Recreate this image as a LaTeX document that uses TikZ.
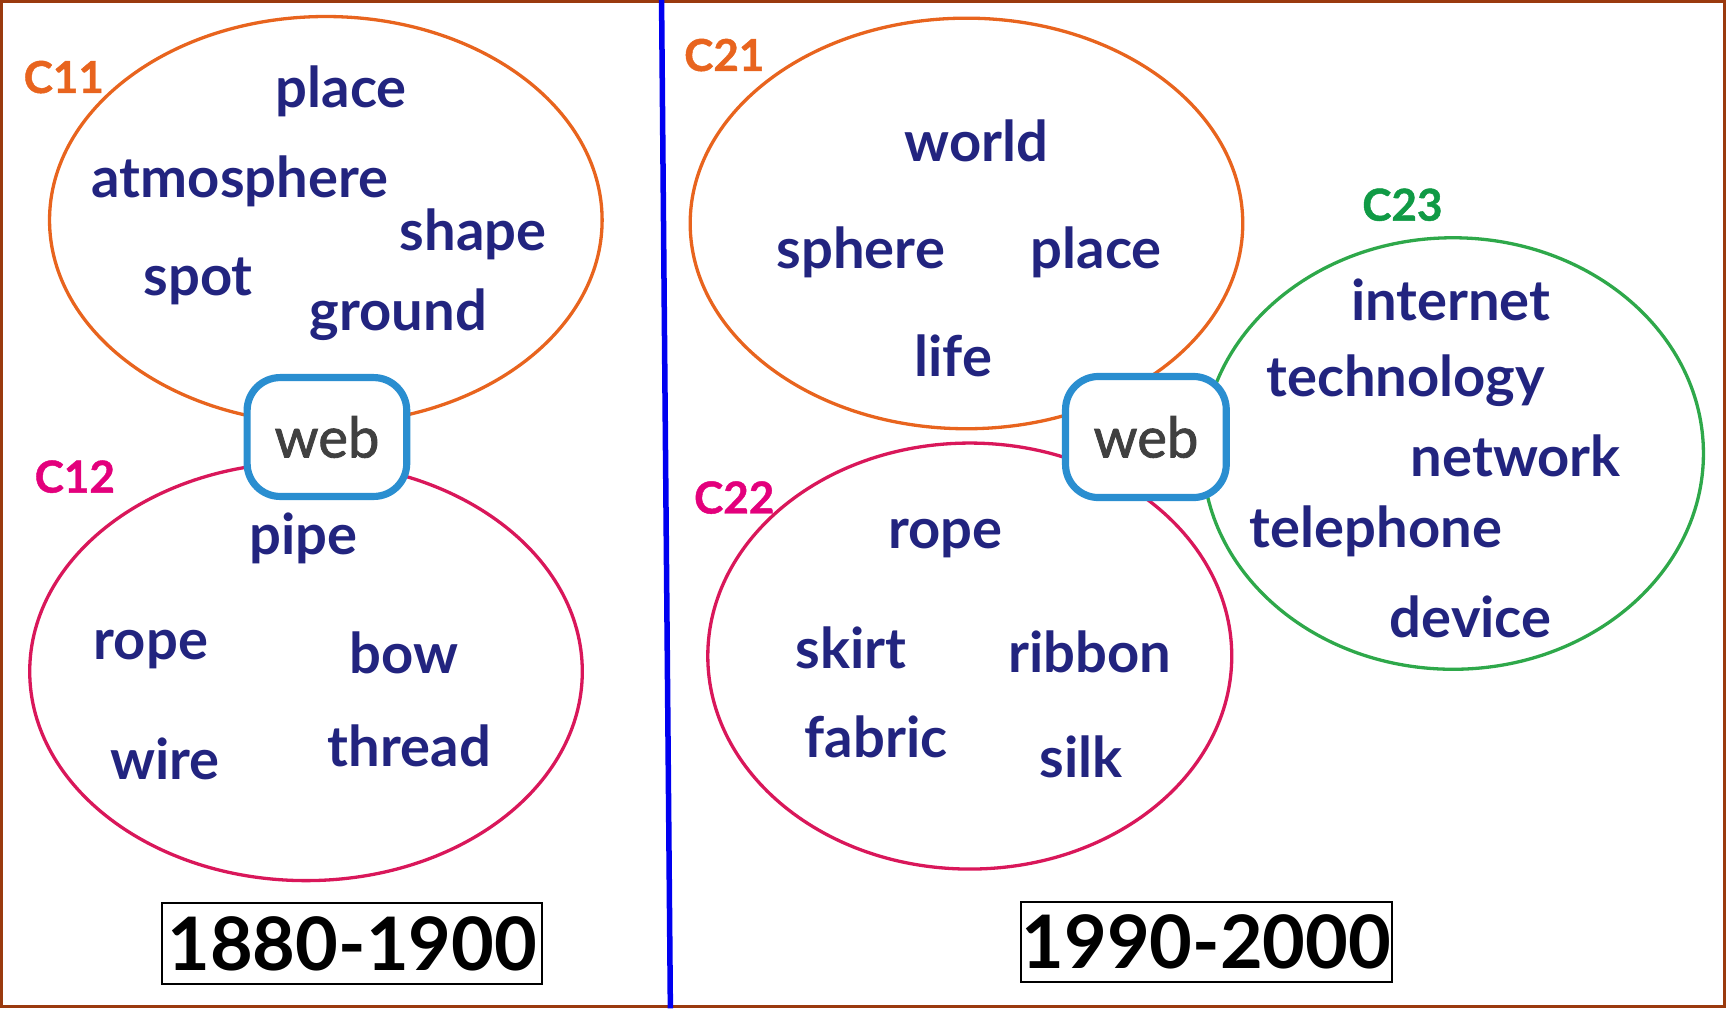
\documentclass[tikz,border=0pt]{standalone}
\usepackage{fontspec}
\setmainfont{Lato}
\usetikzlibrary{shapes.geometric}
\definecolor{framec}{HTML}{9A3A0E}
\definecolor{sepc}{HTML}{0000F0}
\definecolor{orangec}{HTML}{E8641E}
\definecolor{crimc}{HTML}{D9175A}
\definecolor{greenc}{HTML}{2EA84A}
\definecolor{labmag}{HTML}{E3007C}
\definecolor{labgreen}{HTML}{109A45}
\definecolor{wordc}{HTML}{22247F}
\definecolor{webc}{HTML}{2A8ED0}
\definecolor{webtext}{HTML}{404040}
\tikzset{
  word/.style={font=\bfseries\fontsize{51}{51}\selectfont, text=wordc, inner sep=0pt},
  clab/.style={font=\bfseries\fontsize{40}{40}\selectfont\addfontfeatures{FakeBold=1}, inner sep=0pt},
  cluster/.style={ellipse, draw, line width=3pt, inner sep=0pt},
  webbox/.style={draw=webc, line width=6.5pt, rounded corners=30pt, fill=white,
    minimum width=144pt, minimum height=106pt, inner sep=0pt,
    font=\fontsize{51}{51}\selectfont\addfontfeatures{FakeBold=1.5}, text=webtext},
  yearbox/.style={draw=black, line width=1.8pt, inner sep=0pt,
    font=\bfseries\fontsize{67}{67}\selectfont, text=black}
}
\begin{document}
\begin{tikzpicture}[x=1pt,y=-1pt]
\useasboundingbox (0,0) rectangle (1568,916);
% frame
\draw[framec, line width=3pt] (1.5,1.5) rectangle (1566.5,914.5);
% separator
\coordinate (sepT) at (601,0);
\coordinate (sepB) at (609,916);
\draw[sepc, line width=5pt] (sepT) -- (sepB);

% clusters left
\node[cluster, draw=orangec, minimum width=502pt, minimum height=370pt] (c11) at (296,200) {};
\node[cluster, draw=crimc, minimum width=502pt, minimum height=380pt] (c12) at (278,610) {};
% clusters right
\node[cluster, draw=orangec, minimum width=502pt, minimum height=373pt] (c21) at (878,203) {};
\node[cluster, draw=crimc, minimum width=476pt, minimum height=387pt] (c22) at (881,596) {};
\node[cluster, draw=greenc, minimum width=455pt, minimum height=392pt] (c23) at (1320,412) {};

% web nodes
\node[webbox, minimum width=145pt, minimum height=108pt] (webL) at (297,397) {web};
\node[webbox, minimum width=146pt, minimum height=110pt] (webR) at (1041,397) {web};

% labels
\node[clab, text=orangec] (l11) at (58,70) {C11};
\node[clab, text=labmag] (l12) at (68,433) {C12};
\node[clab, text=orangec] (l21) at (658,50) {C21};
\node[clab, text=labmag] (l22) at (667,452) {C22};
\node[clab, text=labgreen] (l23) at (1274,186) {C23};

% C11 words
\node[word] (w11a) at (310,83) {place};
\node[word] (w11b) at (218,165) {atmosphere};
\node[word] (w11c) at (430,213) {shape};
\node[word] (w11d) at (180,256) {spot};
\node[word] (w11e) at (362,286) {ground};
% C12 words
\node[word] (w12a) at (276,489) {pipe};
\node[word] (w12b) at (137,590) {rope};
\node[word] (w12c) at (367,593) {bow};
\node[word] (w12d) at (150,689) {wire};
\node[word] (w12e) at (372,678) {thread};
% C21 words
\node[word] (w21a) at (887,128) {world};
\node[word] (w21b) at (782,229) {sphere};
\node[word] (w21c) at (996,229) {place};
\node[word] (w21d) at (866,323) {life};
% C22 words
\node[word] (w22a) at (859,489) {rope};
\node[word] (w22b) at (773,589) {skirt};
\node[word] (w22c) at (990,592) {ribbon};
\node[word] (w22d) at (796,669) {fabric};
\node[word] (w22e) at (982,688) {silk};
% C23 words
\node[word] (w23a) at (1318,272) {internet};
\node[word] (w23b) at (1277,346) {technology};
\node[word] (w23c) at (1377,414) {network};
\node[word] (w23d) at (1250,483) {telephone};
\node[word] (w23e) at (1336,560) {device};

% year boxes
\node[yearbox, minimum width=345pt, minimum height=73pt] (y1) at (320,857) {1880-1900};
\node[yearbox, minimum width=337pt, minimum height=73pt] (y2) at (1096,856) {1990-2000};
\end{tikzpicture}
\end{document}
